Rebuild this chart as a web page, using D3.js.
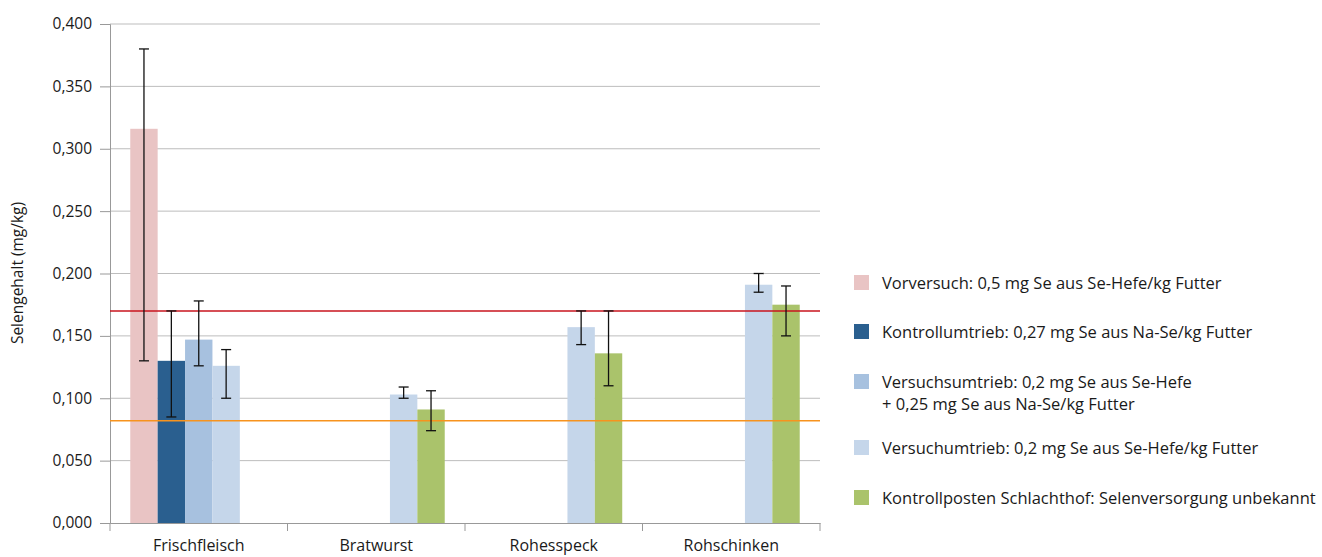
<!DOCTYPE html>
<meta charset="utf-8">
<script src="https://d3js.org/d3.v7.min.js"></script>
<style>
  body { margin: 0; background: #fff; }
  text { font-family: "Open Sans", sans-serif; fill: #1a1a1a; }
</style>
<svg id="chart" width="1322" height="557"></svg>
<script>
// categories and series
var categories = ["Frischfleisch", "Bratwurst", "Rohesspeck", "Rohschinken"];
var seriesNames = [
  ["Vorversuch: 0,5 mg Se aus Se-Hefe/kg Futter"],
  ["Kontrollumtrieb: 0,27 mg Se aus Na-Se/kg Futter"],
  ["Versuchsumtrieb: 0,2 mg Se aus Se-Hefe", "+ 0,25 mg Se aus Na-Se/kg Futter"],
  ["Versuchumtrieb: 0,2 mg Se aus Se-Hefe/kg Futter"],
  ["Kontrollposten Schlachthof: Selenversorgung unbekannt"]
];
var colors = ["#e9c4c4", "#2a5f8f", "#a7c1df", "#c5d6ea", "#aac36b"];

// mean values per series (one entry per category, null = not measured)
var vorversuch      = [0.316, null, null, null];
var kontrollumtrieb = [0.130, null, null, null];
var versuchsumtrieb = [0.147, null, null, null];
var versuchumtrieb  = [0.126, 0.103, 0.157, 0.191];
var kontrollposten  = [null, 0.091, 0.136, 0.175];

// error bar ranges (low, high)
var errLow  = [[0.130, null, null, null], [0.085, null, null, null], [0.126, null, null, null],
               [0.100, 0.100, 0.143, 0.185], [null, 0.074, 0.110, 0.150]];
var errHigh = [[0.380, null, null, null], [0.170, null, null, null], [0.178, null, null, null],
               [0.139, 0.109, 0.170, 0.200], [null, 0.106, 0.170, 0.190]];

// reference lines
var refLines = [0.170, 0.082];
var refColors = ["#c8141e", "#f7931e"];

var yTicks = [0, 0.05, 0.1, 0.15, 0.2, 0.25, 0.3, 0.35, 0.4];

var values = [vorversuch, kontrollumtrieb, versuchsumtrieb, versuchumtrieb, kontrollposten];

var svg = d3.select("#chart");
var mLeft = 110, mRight = 820, mTop = 24, mBottom = 523;

var x = d3.scaleBand().domain(categories).range([mLeft, mRight]).padding(0);
var xs = d3.scaleBand().domain(d3.range(5)).range([0, x.bandwidth()]).paddingInner(0).paddingOuter(0.74);
var y = d3.scaleLinear().domain([0, 0.4]).range([mBottom, mTop]);
var fmt = function(d) { return d3.format(".3f")(d).replace(".", ","); };

// gridlines
svg.append("g").selectAll("line")
  .data(yTicks.filter(function(d) { return d > 0; }))
  .enter().append("line")
    .attr("x1", mLeft).attr("x2", mRight)
    .attr("y1", function(d) { return y(d); }).attr("y2", function(d) { return y(d); })
    .attr("stroke", "#bdbdbd").attr("stroke-width", 1);

// y axis
var yAxis = svg.append("g")
  .attr("transform", "translate(" + mLeft + ",0)")
  .call(d3.axisLeft(y).tickValues(yTicks).tickSize(10).tickFormat(fmt));
yAxis.select(".domain").attr("stroke", "#999");
yAxis.selectAll(".tick line").attr("stroke", "#999");
yAxis.selectAll(".tick text").attr("x", -18).style("font-size", "15.5px").attr("fill", "#1a1a1a");

// x axis
var xAxis = svg.append("g")
  .attr("transform", "translate(0," + mBottom + ")")
  .call(d3.axisBottom(x).tickSize(0).tickPadding(17));
xAxis.select(".domain").attr("stroke", "#999");
xAxis.selectAll(".tick text").style("font-size", "16px").attr("fill", "#1a1a1a");
// category boundary ticks
svg.append("g").selectAll("line")
  .data([categories[0]].concat(categories))
  .enter().append("line")
    .attr("x1", function(d, i) { return i === 0 ? x(d) : x(d) + x.bandwidth(); })
    .attr("x2", function(d, i) { return i === 0 ? x(d) : x(d) + x.bandwidth(); })
    .attr("y1", mBottom).attr("y2", mBottom + 8)
    .attr("stroke", "#999");

// bars
var barData = [];
values.forEach(function(arr, s) {
  arr.forEach(function(v, c) {
    if (v != null) barData.push({s: s, c: categories[c], v: v, lo: errLow[s][c], hi: errHigh[s][c]});
  });
});

svg.append("g").selectAll("rect")
  .data(barData)
  .enter().append("rect")
    .attr("x", function(d) { return x(d.c) + xs(d.s); })
    .attr("width", xs.bandwidth())
    .attr("y", function(d) { return y(d.v); })
    .attr("height", function(d) { return y(0) - y(d.v); })
    .attr("fill", function(d) { return colors[d.s]; });

// reference lines
svg.append("g").selectAll("line")
  .data(refLines)
  .enter().append("line")
    .attr("x1", mLeft).attr("x2", mRight)
    .attr("y1", function(d) { return y(d); }).attr("y2", function(d) { return y(d); })
    .attr("stroke", function(d, i) { return refColors[i]; })
    .attr("stroke-width", 1.5);

// error bars
var eb = svg.append("g").selectAll("g")
  .data(barData)
  .enter().append("g")
    .attr("stroke", "#111").attr("stroke-width", 1.3);
var cx = function(d) { return x(d.c) + xs(d.s) + xs.bandwidth() / 2; };
eb.append("line")
  .attr("x1", cx).attr("x2", cx)
  .attr("y1", function(d) { return y(d.lo); }).attr("y2", function(d) { return y(d.hi); });
eb.append("line")
  .attr("x1", function(d) { return cx(d) - 5; }).attr("x2", function(d) { return cx(d) + 5; })
  .attr("y1", function(d) { return y(d.lo); }).attr("y2", function(d) { return y(d.lo); });
eb.append("line")
  .attr("x1", function(d) { return cx(d) - 5; }).attr("x2", function(d) { return cx(d) + 5; })
  .attr("y1", function(d) { return y(d.hi); }).attr("y2", function(d) { return y(d.hi); });

// y axis title
svg.append("text")
  .attr("transform", "translate(23,273) rotate(-90)")
  .attr("text-anchor", "middle")
  .style("font-size", "15.5px")
  .text("Selengehalt (mg/kg)");

// legend
var legY = [283, 332, 382, 448, 498];
var leg = svg.append("g").selectAll("g")
  .data(seriesNames)
  .enter().append("g")
    .attr("transform", function(d, i) { return "translate(854," + legY[i] + ")"; });
leg.append("rect")
  .attr("x", 0).attr("y", -8).attr("width", 15).attr("height", 15)
  .attr("fill", function(d, i) { return colors[i]; });
leg.each(function(lines) {
  var t = d3.select(this).append("text")
    .attr("x", 28).attr("y", 0)
    .style("font-size", "16.5px");
  lines.forEach(function(l, j) {
    t.append("tspan").attr("x", 28).attr("dy", j === 0 ? "0.35em" : "22px").text(l);
  });
});
</script>
